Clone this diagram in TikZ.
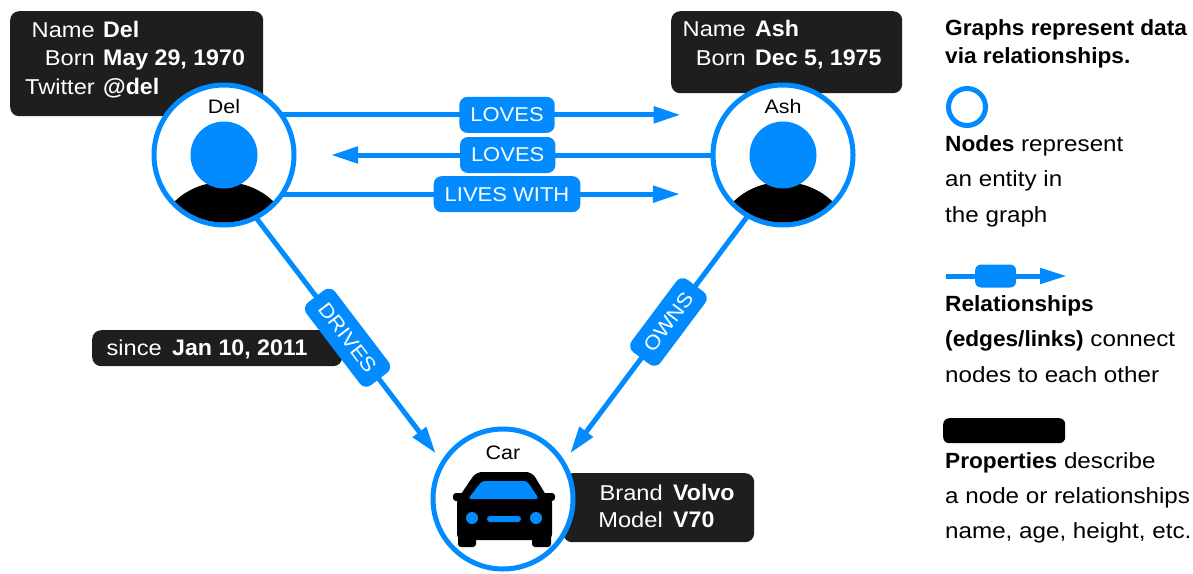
\documentclass[tikz,border=0pt]{standalone}
\usepackage{fontspec}
\setmainfont{Liberation Sans}[FakeStretch=1.1, BoldFeatures={FakeStretch=1.03}]
\usetikzlibrary{arrows.meta}
\definecolor{nblue}{RGB}{1,139,255}
\definecolor{pdark}{RGB}{30,30,30}
\begin{document}
\begin{tikzpicture}[x=1pt,y=-1pt,
  entity/.style={circle, draw=nblue, line width=5pt, fill=white, minimum size=140pt, inner sep=0pt, outer sep=0pt},
  entname/.style={anchor=base, font=\fontsize{19.5}{24}\selectfont, text=black, inner sep=0pt},
  propbox/.style={fill=pdark, rounded corners=9pt, anchor=north west, inner sep=0pt},
  pkey/.style={anchor=base east, text=white, inner sep=0pt, font=\fontsize{21.5}{26}\selectfont},
  pval/.style={anchor=base west, text=white, inner sep=0pt, font=\fontsize{22.5}{26}\selectfont\bfseries},
  edge/.style={draw=nblue, line width=5pt, -{Triangle[length=27pt,width=16pt]}},
  rel/.style={fill=nblue, text=white, rounded corners=8pt, minimum height=36pt, inner xsep=11pt, inner ysep=0pt, font=\fontsize{20}{24}\selectfont},
  legtxt/.style={anchor=base west, inner sep=0pt, font=\fontsize{22}{26}\selectfont},
  legbold/.style={legtxt, font=\fontsize{22}{26}\selectfont\bfseries},
]
\useasboundingbox[fill=white] (0,0) rectangle (1193,573);

% property boxes
\node[propbox, minimum width=253pt, minimum height=105pt] (delprops) at (10,11) {};
\node[pkey] (dk1) at (95,37) {Name}; \node[pval] (dv1) at (103,37) {Del};
\node[pkey] (dk2) at (95,65) {Born}; \node[pval] (dv2) at (103,65) {May 29, 1970};
\node[pkey] (dk3) at (95,94) {Twitter}; \node[pval] (dv3) at (103,94) {@del};

\node[propbox, minimum width=231pt, minimum height=82pt] (ashprops) at (671,11) {};
\node[pkey] (ak1) at (746,36) {Name}; \node[pval] (av1) at (755,36) {Ash};
\node[pkey] (ak2) at (746,65) {Born}; \node[pval] (av2) at (755,65) {Dec 5, 1975};

\node[propbox, minimum width=191pt, minimum height=69pt] (carprops) at (563,473) {};
\node[pkey] (ck1) at (663,500) {Brand}; \node[pval] (cv1) at (673,500) {Volvo};
\node[pkey] (ck2) at (663,527) {Model}; \node[pval] (cv2) at (673,527) {V70};

\node[propbox, minimum width=250pt, minimum height=36pt] (sinceprops) at (92,330) {};
\node[pkey] (sk1) at (162,355) {since}; \node[pval] (sv1) at (172,355) {Jan 10, 2011};

% entity nodes
\node[entity] (del) at (224,155) {};
\node[entity] (ash) at (783,155) {};
\node[entity] (car) at (503,499) {};

% person icons
\foreach \cx in {224,783}{
  \begin{scope}
    \clip (\cx,155) circle (67.5pt);
    \fill[black] (\cx,240) ellipse [x radius=66pt, y radius=58pt];
  \end{scope}
  \fill[nblue] (\cx,155) circle (33.5pt);
}
% car icon
\fill[black, rounded corners=6pt] (476,472) -- (532,472) -- (549,500) -- (457,500) -- cycle;
\fill[black, rounded corners=3pt] (453,493) rectangle (555,501);
\fill[black, rounded corners=6pt] (457,497) rectangle (552,540);
\fill[black, rounded corners=3pt] (458,530) rectangle (476,547);
\fill[black, rounded corners=3pt] (532,530) rectangle (551,547);
\fill[nblue, rounded corners=3pt] (482,481) -- (527,481) -- (539,499) -- (468,499) -- cycle;
\fill[nblue] (472,518) circle (6pt);
\fill[nblue] (536,518) circle (6pt);
\fill[nblue, rounded corners=3pt] (487,516) rectangle (521,522);

% entity names
\node[entname] (delname) at (224,113) {Del};
\node[entname] (ashname) at (783,113) {Ash};
\node[entname] (carname) at (503,459) {Car};

% relationships
\draw[edge, shorten >=45pt] (del.35) -- (ash.145) node[rel, pos=0.508] (r1) {LOVES};
\draw[edge, shorten >=37pt] (ash.180) -- (del.0) node[rel, pos=0.49] (r2) {LOVES};
\draw[edge, shorten >=45pt] (del.-34) -- (ash.-146) node[rel, pos=0.508] (r3) {LIVES WITH};
\draw[edge, shorten >=12pt] (del.-63) -- (car.149) node[rel, sloped, pos=0.49] (r4) {DRIVES};
\draw[edge, shorten >=12pt] (ash.-120) -- (car.31) node[rel, sloped, pos=0.43] (r5) {OWNS};

% legend
\node[legbold] (g1) at (945,35) {Graphs represent data};
\node[legbold] (g2) at (945,63) {via relationships.};
\node[circle, draw=nblue, line width=5pt, minimum size=37pt, inner sep=0pt] (legnode) at (967,107) {};
\node[legtxt] (n1) at (945,151) {\textbf{Nodes} represent};
\node[legtxt] (n2) at (945,186) {an entity in};
\node[legtxt] (n3) at (945,222) {the graph};
\coordinate (la) at (946,276);
\coordinate (lb) at (1067,276);
\draw[draw=nblue, line width=5pt, -{Triangle[length=27pt,width=15pt]}] (la) -- (lb)
  node[pos=0.41, fill=nblue, rounded corners=6pt, minimum width=41pt, minimum height=23pt, inner sep=0pt] (legrel) {};
\node[legtxt] (e1) at (945,311) {\textbf{Relationships}};
\node[legtxt] (e2) at (945,346) {\textbf{(edges/links)} connect};
\node[legtxt] (e3) at (945,382) {nodes to each other};
\node[fill=black, rounded corners=6pt, minimum width=122pt, minimum height=25pt, inner sep=0pt, anchor=north west] (legprop) at (943,418) {};
\node[legtxt] (p1) at (945,468) {\textbf{Properties} describe};
\node[legtxt] (p2) at (945,503) {a node or relationships};
\node[legtxt] (p3) at (945,538) {name, age, height, etc.};
\end{tikzpicture}
\end{document}
